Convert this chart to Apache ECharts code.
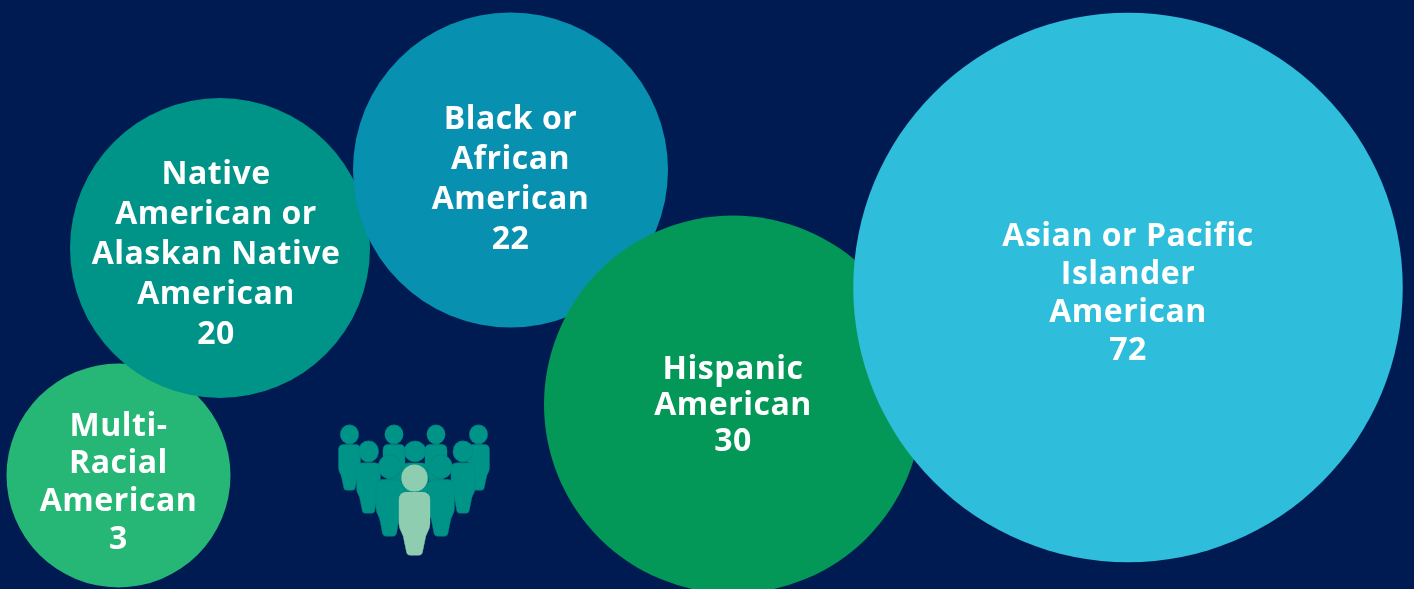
<!DOCTYPE html>
<html><head><meta charset="utf-8">
<style>html,body{margin:0;padding:0;background:#001b52}#c{width:1414px;height:589px}</style>
<script src="https://cdn.jsdelivr.net/npm/echarts@6/dist/echarts.min.js"></script>
</head><body><div id="c"></div>
<script>
// Data
const groups = ['Multi-\nRacial\nAmerican','Native\nAmerican or\nAlaskan Native\nAmerican','Black or\nAfrican\nAmerican','Hispanic\nAmerican','Asian or Pacific\nIslander\nAmerican'];
const values = [3,20,22,30,72];
// Layout of the packed bubbles (pixels on the hidden axes)
const bubbleX = [118.5,220,510.5,733,1128];
const bubbleY = [475.5,248,170,404.5,287.5];
const bubbleD = [224,300,315,378,549.5];
const bubbleColors = ['#26b776','#009388','#0790af','#049858','#2ebdda'];
const textDx = [0,-4,0,0,0];
const textDy = [7.5,7,10,1.5,6];
const lineHeights = [37.7,40,40,36,38];
// Icon layout
const peopleX = [349.5,394,436,478.5, 368.5,463, 415, 389.5,441, 414.5];
const peopleTop = [425,425,425,425, 441,441, 441, 455,455, 465];
const peopleW = [22,22,22,22, 24,24, 26, 27,27, 31];
const peopleH = [65,65,65,65, 72,72, 72, 81,81, 90];
const personPath = 'path://M25 130A130 130 0 1 1 285 130A130 130 0 1 1 25 130ZM75 275H235Q310 275 310 350V590Q310 630 285 670Q266 705 262 740L236 865Q229 900 194 900H116Q81 900 74 865L48 740Q44 705 25 670Q0 630 0 590V350Q0 275 75 275Z';

// The reference's lettering is slightly tracked; ECharts has no option for that.
const nativeGetContext = HTMLCanvasElement.prototype.getContext;
HTMLCanvasElement.prototype.getContext = function(){
  const ctx = nativeGetContext.apply(this, arguments);
  if (ctx && 'letterSpacing' in ctx) ctx.letterSpacing = '0.5px';
  return ctx;
};

const chart = echarts.init(document.getElementById('c'), null, {renderer:'canvas'});
const hiddenAxis = (min,max,inverse)=>({type:'value',min,max,inverse,show:false,splitLine:{show:false}});
chart.setOption({
  animation:false,
  backgroundColor:'#001b52',
  grid:{left:0,right:0,top:0,bottom:0},
  xAxis:hiddenAxis(0,1414,false),
  yAxis:hiddenAxis(0,589,true),
  series:[
    {
      type:'scatter',
      clip:false,
      z:2,
      data:groups.map((g,i)=>({
        name:g,
        value:[bubbleX[i],bubbleY[i],values[i]],
        symbolSize:bubbleD[i],
        itemStyle:{color:bubbleColors[i],opacity:1},
        label:{
          show:true,position:'inside',
          offset:[textDx[i],textDy[i]],
          formatter:g+'\n'+values[i],
          color:'#ffffff',
          fontFamily:'"Open Sans"',fontWeight:700,fontSize:32,
          lineHeight:lineHeights[i],align:'center',verticalAlign:'middle'
        }
      }))
    },
    {
      type:'scatter',
      clip:false,
      z:3,
      silent:true,
      symbol:personPath,
      data:peopleX.map((x,i)=>({
        value:[x,peopleTop[i]+peopleH[i]/2],
        symbolSize:[peopleW[i],peopleH[i]],
        itemStyle:{
          color:i===peopleX.length-1?'#8fcdb0':'#009488',
          borderColor:i===peopleX.length-1?'#8fcdb0':'#00877f',
          borderWidth:0.6,opacity:1
        }
      }))
    }
  ]
});
</script></body></html>
